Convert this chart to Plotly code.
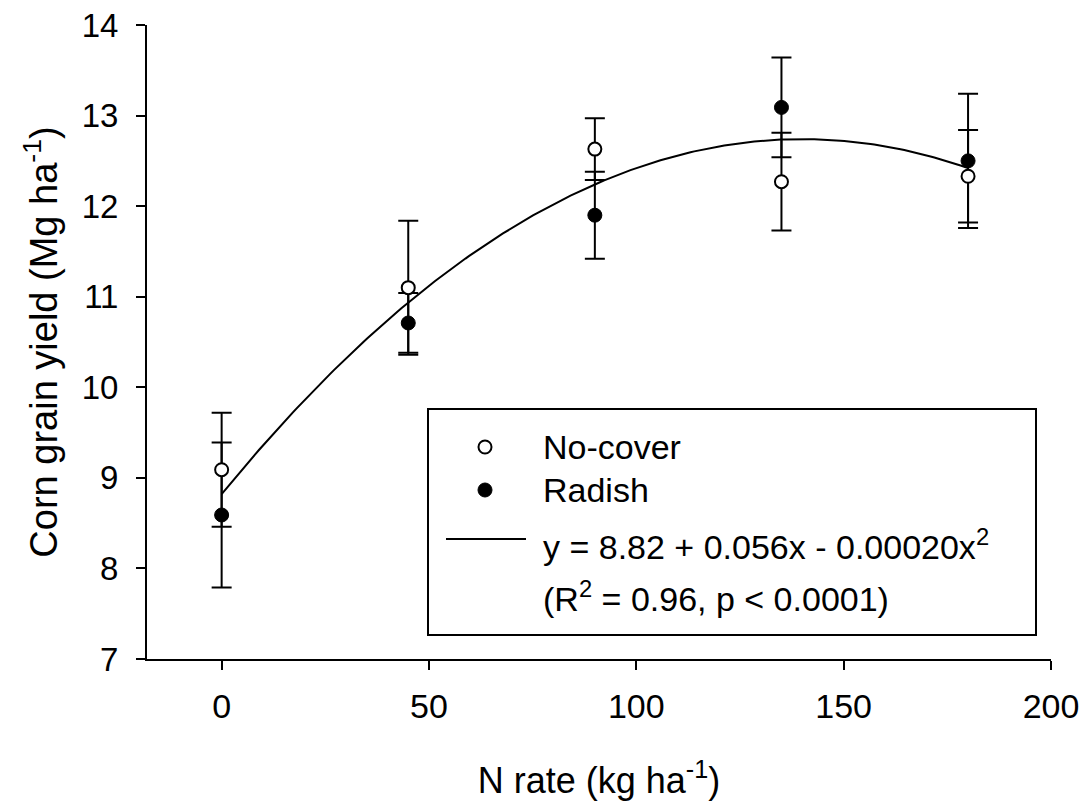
import plotly.graph_objects as go
import numpy as np

# ---- data ----
n_rate = [0, 45, 90, 135, 180]
nocover_yield = [9.09, 11.10, 12.63, 12.27, 12.33]
nocover_err = [0.63, 0.74, 0.34, 0.54, 0.51]
radish_yield = [8.59, 10.71, 11.90, 13.09, 12.50]
radish_err = [0.80, 0.33, 0.48, 0.55, 0.74]

# fitted quadratic given in the chart: y = b0 + b1 x + b2 x^2
fit_b0, fit_b1, fit_b2 = 8.82, 0.056, -0.00020
fit_x_range = (0, 180)

x_ticks = [0, 50, 100, 150, 200]
y_ticks = [7, 8, 9, 10, 11, 12, 13, 14]

legend_labels = ["No-cover", "Radish",
                 "y = 8.82 + 0.056x - 0.00020x<sup>2</sup>",
                 "(R<sup>2</sup> = 0.96, p < 0.0001)"]

# ---- layout geometry (pixels) ----
W, H = 1087, 802
L, R, T, B = 147, 1051, 25, 659
FONT = "Liberation Sans, Arial, sans-serif"


def px_x(p):
    return (p - L) / (R - L)


def px_y(p):
    return (B - p) / (B - T)


fig = go.Figure()

# fitted curve
fx = np.linspace(fit_x_range[0], fit_x_range[1], 200)
fy = fit_b0 + fit_b1 * fx + fit_b2 * fx ** 2
fig.add_trace(go.Scatter(x=fx, y=fy, mode="lines",
                         line=dict(color="black", width=2),
                         showlegend=False, hoverinfo="skip"))

eb = dict(type="data", thickness=2, width=10, color="black")
# error bars (below all markers)
for yv, ev in [(nocover_yield, nocover_err), (radish_yield, radish_err)]:
    fig.add_trace(go.Scatter(x=n_rate, y=yv, mode="markers",
                             marker=dict(size=1, color="rgba(0,0,0,0)"),
                             error_y=dict(array=ev, **eb),
                             showlegend=False, hoverinfo="skip"))

open_marker = dict(symbol="circle", size=13, color="white",
                   line=dict(color="black", width=2))
filled_marker = dict(symbol="circle", size=14, color="black",
                     line=dict(color="black", width=1))

fig.add_trace(go.Scatter(x=n_rate, y=nocover_yield, mode="markers",
                         marker=open_marker, name="No-cover", showlegend=False))
fig.add_trace(go.Scatter(x=n_rate, y=radish_yield, mode="markers",
                         marker=filled_marker, name="Radish", showlegend=False))

# custom legend drawn on an overlay axis spanning the plot domain
fig.add_trace(go.Scatter(x=[px_x(485)], y=[px_y(447)], mode="markers",
                         marker=open_marker, xaxis="x2", yaxis="y2",
                         showlegend=False, hoverinfo="skip"))
fig.add_trace(go.Scatter(x=[px_x(485)], y=[px_y(490)], mode="markers",
                         marker=filled_marker, xaxis="x2", yaxis="y2",
                         showlegend=False, hoverinfo="skip"))
fig.add_trace(go.Scatter(x=[px_x(446), px_x(526)], y=[px_y(539), px_y(539)],
                         mode="lines", line=dict(color="black", width=2),
                         xaxis="x2", yaxis="y2",
                         showlegend=False, hoverinfo="skip"))

fig.add_shape(type="rect", xref="paper", yref="paper",
              x0=px_x(428), x1=px_x(1036), y0=px_y(635), y1=px_y(409),
              line=dict(color="black", width=2), fillcolor="rgba(0,0,0,0)")

text_x = px_x(541)
for lbl, cy in zip(legend_labels, [447, 490, 544, 596]):
    fig.add_annotation(x=text_x, y=px_y(cy), xref="paper", yref="paper",
                       text=lbl, showarrow=False, xanchor="left",
                       yanchor="middle",
                       font=dict(family=FONT, size=34, color="black"))

fig.update_layout(
    width=W, height=H,
    margin=dict(l=L, r=W - R, t=T, b=H - B, autoexpand=False),
    paper_bgcolor="white", plot_bgcolor="white",
    font=dict(family=FONT, color="black"),
    showlegend=False,
    xaxis=dict(range=[-18, 200], tickvals=x_ticks, ticks="outside",
               ticklen=9, tickwidth=2, tickcolor="black",
               showline=True, linecolor="black", linewidth=2,
               showgrid=False, zeroline=False,
               tickfont=dict(family=FONT, size=34),
               ticklabelstandoff=7,
               title=dict(text="N rate (kg ha<sup>-1</sup>)",
                          font=dict(family=FONT, size=36), standoff=44)),
    yaxis=dict(range=[7, 14], tickvals=y_ticks, ticks="outside",
               ticklen=9, tickwidth=2, tickcolor="black",
               showline=True, linecolor="black", linewidth=2,
               showgrid=False, zeroline=False,
               tickfont=dict(family=FONT, size=33),
               ticklabelstandoff=11,
               title=dict(text="Corn grain yield (Mg ha<sup>-1</sup>)",
                          font=dict(family=FONT, size=38), standoff=12)),
    xaxis2=dict(overlaying="x", range=[0, 1], visible=False, fixedrange=True),
    yaxis2=dict(overlaying="y", range=[0, 1], visible=False, fixedrange=True),
)

fig.write_html("out.html")
